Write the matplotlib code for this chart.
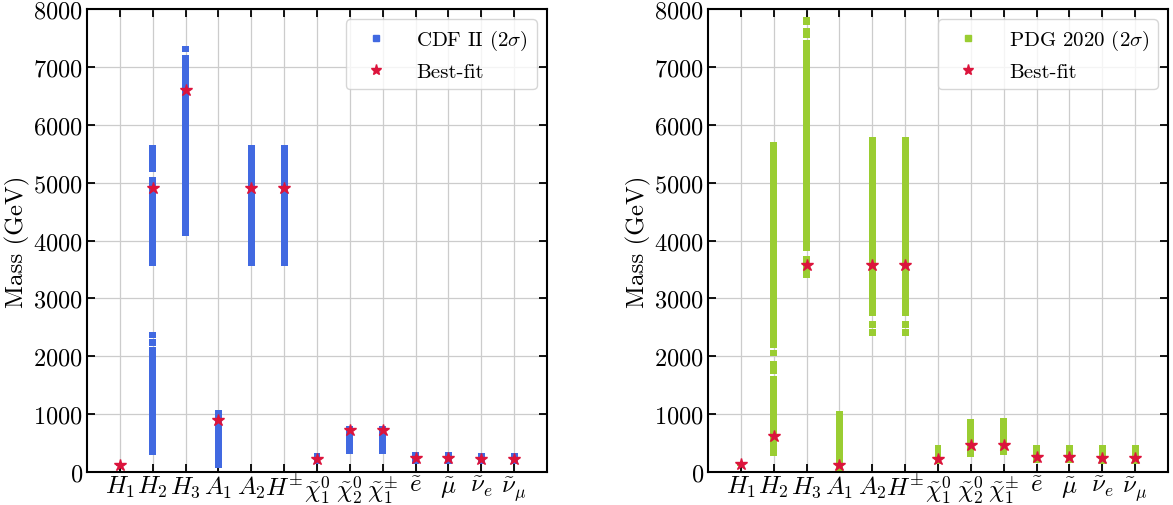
import numpy as np
import matplotlib
matplotlib.use("Agg")
import matplotlib.pyplot as plt
from matplotlib.lines import Line2D

plt.rcParams["font.family"] = "serif"
plt.rcParams["font.serif"] = ["cmr10"]
plt.rcParams["mathtext.fontset"] = "cm"
plt.rcParams["axes.formatter.use_mathtext"] = True

particles = [r"$H_1$", r"$H_2$", r"$H_3$", r"$A_1$", r"$A_2$", r"$H^{\pm}$",
             r"$\tilde{\chi}_1^0$", r"$\tilde{\chi}_2^0$", r"$\tilde{\chi}_1^{\pm}$",
             r"$\tilde{e}$", r"$\tilde{\mu}$", r"$\tilde{\nu}_e$", r"$\tilde{\nu}_\mu$"]

# allowed 2 sigma mass ranges (GeV), one list of (low, high) pieces per particle
cdf_ranges = [
    [(105, 145)],
    [(295, 2160), (2185, 2305), (2315, 2425), (3560, 5090), (5190, 5655)],
    [(4083, 7205), (7252, 7355)],
    [(75, 1065)],
    [(3560, 5655)],
    [(3560, 5655)],
    [(130, 335)],
    [(305, 795)],
    [(305, 795)],
    [(130, 345)],
    [(140, 350)],
    [(130, 335)],
    [(130, 335)],
]
cdf_best = [125, 4900, 6600, 893, 4900, 4900, 220, 720, 720, 236, 240, 220, 220]

pdg_ranges = [
    [(110, 150)],
    [(270, 1655), (1690, 1910), (2000, 2110), (2135, 5695)],
    [(3345, 3740), (3815, 7470), (7495, 7665), (7725, 7855)],
    [(17, 1055)],
    [(2355, 2465), (2480, 2605), (2690, 5780)],
    [(2355, 2465), (2480, 2605), (2690, 5780)],
    [(133, 461)],
    [(265, 911)],
    [(294, 928)],
    [(150, 473)],
    [(150, 473)],
    [(133, 461)],
    [(133, 461)],
]
pdg_best = [133, 627, 3577, 121, 3577, 3577, 230, 467, 467, 259, 259, 236, 236]


def draw_panel(ax, ranges, best, color, label):
    x = np.arange(len(particles))
    for i, pieces in enumerate(ranges):
        for lo, hi in pieces:
            ax.bar(x[i], hi - lo, bottom=lo, width=0.21, color=color, zorder=2)
    ax.plot(x, best, ls="none", marker="*", ms=9, color="crimson", zorder=3)

    handles = [Line2D([], [], ls="none", marker="s", ms=5, color=color),
               Line2D([], [], ls="none", marker="*", ms=8, color="crimson")]
    ax.legend(handles, [label, "Best-fit"], loc="upper right", fontsize=15,
              handlelength=2.1, handletextpad=0.9, labelspacing=0.5,
              borderaxespad=0.5)

    ax.set_xticks(x)
    ax.set_xticklabels(particles, fontsize=18)
    ax.set_xlim(-1, 13)
    ax.set_ylim(0, 8000)
    ax.set_yticks(np.arange(0, 8001, 1000))
    ax.tick_params(axis="y", labelsize=17.5, pad=3)
    ax.tick_params(axis="x", pad=1.5)
    ax.tick_params(direction="in", top=True, right=True, length=6, width=1.3)
    ax.set_ylabel("Mass (GeV)", fontsize=18, labelpad=2)
    ax.grid(True, color="0.8", lw=0.9)
    ax.set_axisbelow(True)
    for sp in ax.spines.values():
        sp.set_linewidth(1.5)


fig = plt.figure(figsize=(11.73, 5.06), dpi=100)
ax1 = fig.add_axes([87 / 1173, 33 / 506, 460 / 1173, 463 / 506])
ax2 = fig.add_axes([708 / 1173, 33 / 506, 460 / 1173, 463 / 506])

draw_panel(ax1, cdf_ranges, cdf_best, "royalblue", r"CDF II $(2\sigma)$")
draw_panel(ax2, pdg_ranges, pdg_best, "yellowgreen", r"PDG 2020 $(2\sigma)$")

fig.savefig("out.png", dpi=100)
